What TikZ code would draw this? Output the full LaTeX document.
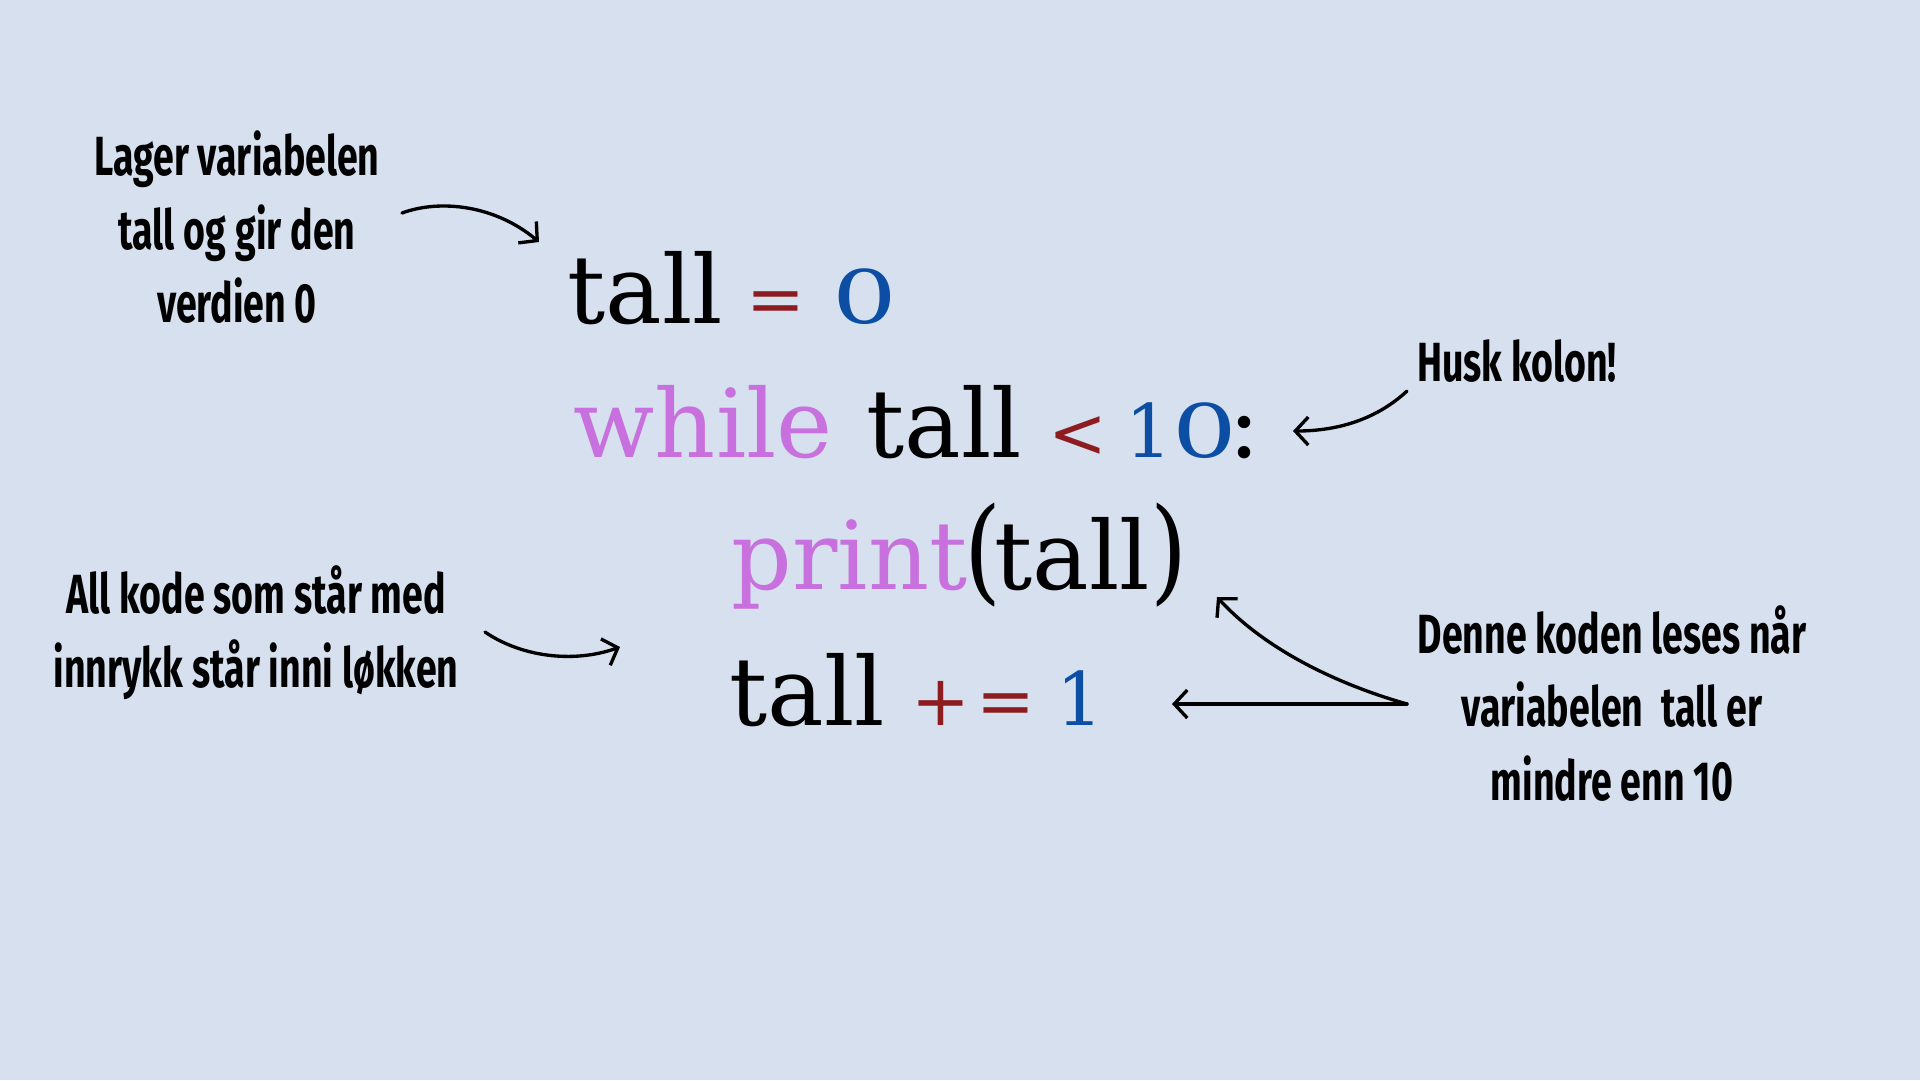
\documentclass[tikz,border=0pt]{standalone}
\usepackage{fontspec}
\usetikzlibrary{arrows.meta}

\newfontfamily\codefont{DejaVu Serif}
\newfontfamily\handfont{Fira Sans}[FakeStretch=0.68]

\definecolor{bgc}{RGB}{214,224,238}
\definecolor{kwc}{RGB}{200,112,222}
\definecolor{opc}{RGB}{140,28,32}
\definecolor{numc}{RGB}{12,78,164}

% round old-style zero
\newcommand\rzero{\scalebox{1.38}[1]{0}}

\tikzset{
  code/.style={anchor=base west, inner sep=0pt, text=black,
    font=\codefont\fontsize{27}{30}\selectfont},
  kwd/.style={code, text=kwc},
  oper/.style={code, text=opc, font=\codefont\fontsize{20}{24}\selectfont},
  numb/.style={code, text=numc, font=\codefont\fontsize{21}{24}\selectfont},
  note/.style={anchor=base, inner sep=0pt, text=black,
    font=\handfont\bfseries\fontsize{15.7}{19}\selectfont},
  pointer/.style={line width=0.95pt, line cap=round,
    -{Straight Barb[length=1.3mm,width=2.8mm]}},
}

\begin{document}
\begin{tikzpicture}[x=0.1mm,y=-0.1mm]
  % canvas
  \fill[bgc] (0,0) rectangle (1920,1080);
  \useasboundingbox (0,0) rectangle (1920,1080);

  % line 1: tall = 0
  \node[code] (l1tall) at (567,323) {tall};
  \node[oper] (l1eq)   at (746,323) {=};
  \node[numb] (l1num)  at (832,323) {\rzero};

  % line 2: while tall < 10:
  \node[kwd]  (l2while) at (573,457) {while};
  \node[code] (l2tall)  at (866,457) {tall};
  \node[oper] (l2lt)    at (1048,457) {<};
  \node[numb] (l2num)   at (1125,457) {1\rzero};
  \node[code] (l2colon) at (1228,457) {:};

  % line 3: print(tall)
  \node[kwd]  (l3print) at (731,589) {print};
  \node[code] (l3open)  at (964,589) {\scalebox{1}[1.2]{(}};
  \node[code] (l3tall)  at (994,589) {tall};
  \node[code] (l3close) at (1150,589) {\scalebox{1}[1.2]{)}};

  % line 4: tall += 1
  \node[code] (l4tall) at (729,725) {tall};
  \node[oper] (l4plus) at (911,725) {+};
  \node[oper] (l4eq)   at (976,725) {=};
  \node[numb] (l4num)  at (1056,725) {1};

  % notes
  \node[note] (n1a) at (237,175) {Lager variabelen};
  \node[note] (n1b) at (237,249) {tall og gir den};
  \node[note] (n1c) at (237,322) {verdien 0};

  \node[note] (n2) at (1517,381) {Husk kolon!};

  \node[note] (n3a) at (256,613) {All kode som står med};
  \node[note] (n3b) at (256,687) {innrykk står inni løkken};

  \node[note] (n4a) at (1612,653) {Denne koden leses når};
  \node[note] (n4b) at (1612,726) {variabelen~ tall er};
  \node[note] (n4c) at (1612,800) {mindre enn 10};

  % pointer ends
  \coordinate (p1s) at (402,213);
  \coordinate (p1e) at (539,242);
  \coordinate (p2s) at (1407,391);
  \coordinate (p2e) at (1293,431);
  \coordinate (p3s) at (485,632);
  \coordinate (p3e) at (620,647);
  \coordinate (p4s) at (1407,704);
  \coordinate (p4e) at (1172,704);
  \coordinate (p5e) at (1217,597);

  % pointers
  \draw[pointer] (p1s) .. controls (440,199) and (495,205) .. (p1e);
  \draw[pointer] (p2s) .. controls (1378,418) and (1340,431) .. (p2e);
  \draw[pointer] (p3s) .. controls (520,656) and (572,664) .. (p3e);
  \draw[pointer] (p4s) -- (p4e);
  \draw[pointer] (p4s) .. controls (1330,682) and (1262,646) .. (p5e);
\end{tikzpicture}
\end{document}
